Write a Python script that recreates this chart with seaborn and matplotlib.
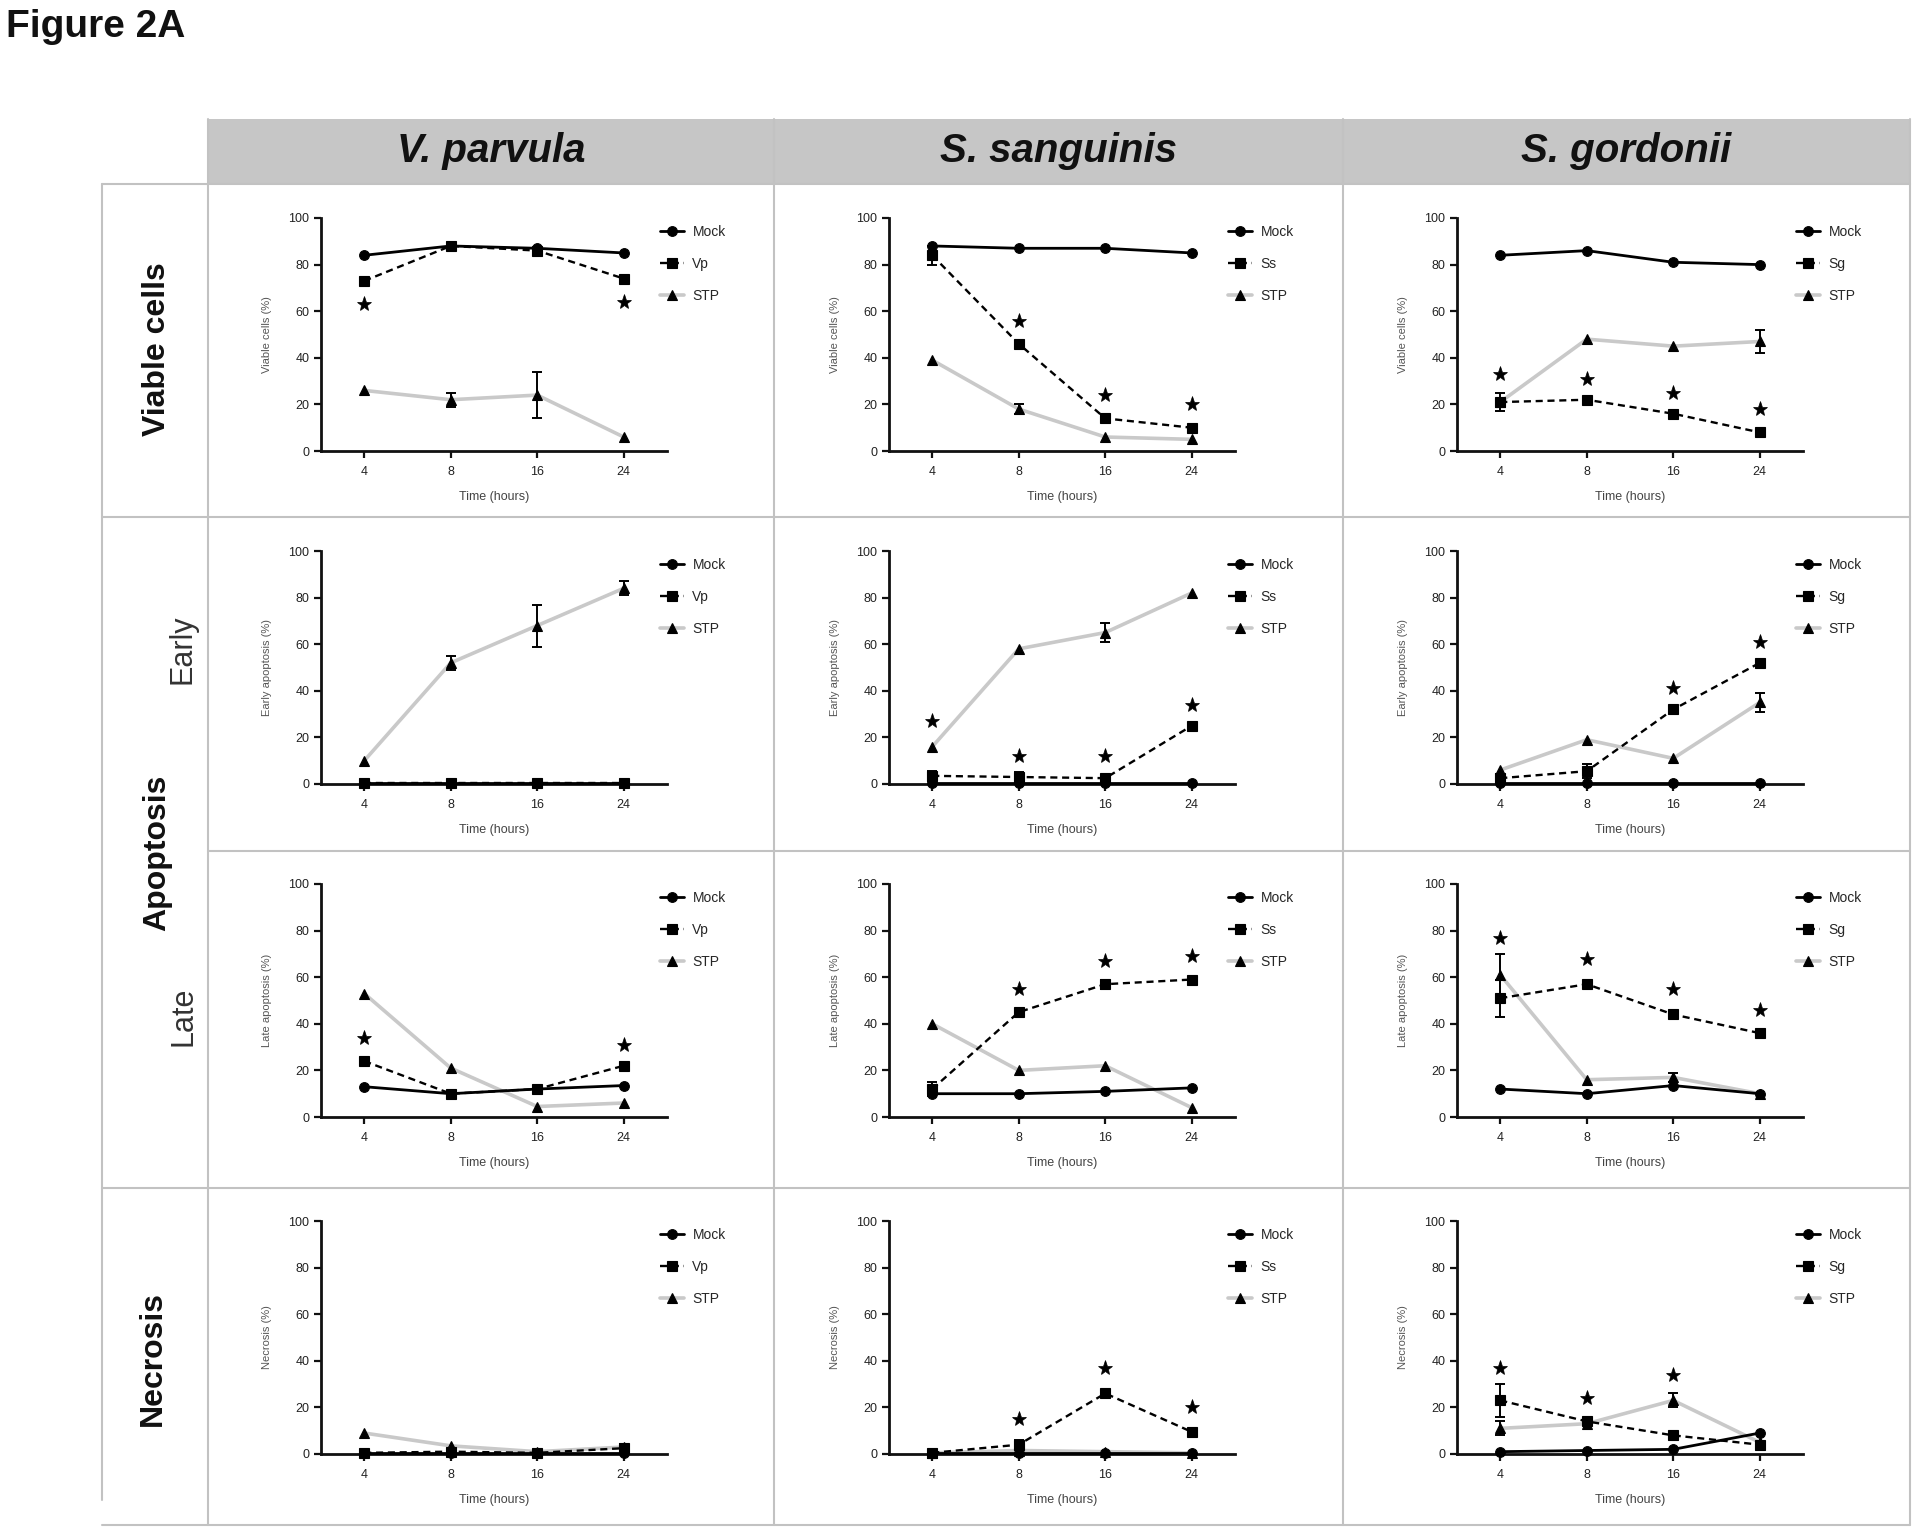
import numpy as np
import pandas as pd
import matplotlib
matplotlib.use("Agg")
import matplotlib.pyplot as plt
import seaborn as sns
from matplotlib.lines import Line2D
from matplotlib.patches import Rectangle

nan = np.nan

# ---------------- data ----------------
TIMES = ["4", "8", "16", "24"]
ORGANISMS = ["V. parvula", "S. sanguinis", "S. gordonii"]
INFECTION_LABELS = ["Vp", "Ss", "Sg"]
ROW_Y_LABELS = ["Viable cells (%)", "Early apoptosis (%)", "Late apoptosis (%)", "Necrosis (%)"]
Y_TICKS = [0, 20, 40, 60, 80, 100]
X_LABEL = "Time (hours)"

VIABLE_MOCK = [[84, 88, 87, 85], [88, 87, 87, 85], [84, 86, 81, 80]]
VIABLE_INF = [[73, 88, 86, 74], [84, 46, 14, 10], [21, 22, 16, 8]]
VIABLE_STP = [[26, 22, 24, 6], [39, 18, 6, 5], [21, 48, 45, 47]]
VIABLE_INF_ERR = [[0, 0, 0, 0], [4, 0, 0, 0], [4, 0, 0, 0]]
VIABLE_STP_ERR = [[0, 3, 10, 0], [0, 2, 0, 0], [0, 0, 0, 5]]
VIABLE_STARS = [[63, nan, nan, 64], [nan, 56, 24, 20], [33, 31, 25, 18]]

EARLY_MOCK = [[0.5, 0.5, 0.5, 0.5], [0.5, 0.5, 0.5, 0.5], [0.5, 0.5, 0.5, 0.5]]
EARLY_INF = [[0.5, 0.5, 0.5, 0.5], [3.5, 3, 2.5, 25], [2.5, 5.5, 32, 52]]
EARLY_STP = [[10, 52, 68, 84], [16, 58, 65, 82], [6, 19, 11, 35]]
EARLY_INF_ERR = [[0, 0, 0, 0], [2, 2, 0, 0], [2, 3, 0, 0]]
EARLY_STP_ERR = [[0, 3, 9, 3], [0, 0, 4, 0], [0, 0, 0, 4]]
EARLY_STARS = [[nan, nan, nan, nan], [27, 12, 12, 34], [nan, nan, 41, 61]]

LATE_MOCK = [[13, 10, 12, 13.5], [10, 10, 11, 12.5], [12, 10, 13.5, 10]]
LATE_INF = [[24, 10, 12, 22], [12, 45, 57, 59], [51, 57, 44, 36]]
LATE_STP = [[53, 21, 4.5, 6], [40, 20, 22, 4], [61, 16, 17, 10]]
LATE_INF_ERR = [[0, 0, 0, 0], [3, 0, 2, 0], [8, 0, 0, 0]]
LATE_STP_ERR = [[0, 0, 0, 0], [0, 0, 0, 0], [9, 0, 2, 0]]
LATE_STARS = [[34, nan, nan, 31], [nan, 55, 67, 69], [77, 68, 55, 46]]

NECROSIS_MOCK = [[0.5, 0.5, 0.5, 0.5], [0.5, 0.5, 0.5, 0.5], [1, 1.5, 2, 9]]
NECROSIS_INF = [[0.5, 1, 0.5, 2.5], [0.5, 4, 26, 9.5], [23, 14, 8, 4]]
NECROSIS_STP = [[9, 3.5, 1, 3], [0.5, 1.5, 1, 0.5], [11, 13, 23, 5]]
NECROSIS_INF_ERR = [[0, 0, 0, 2], [0, 2, 0, 0], [7, 0, 0, 0]]
NECROSIS_STP_ERR = [[0, 0, 0, 0], [0, 0, 0, 0], [3, 0, 3, 0]]
NECROSIS_STARS = [[nan, nan, nan, nan], [nan, 15, 37, 20], [37, 24, 34, nan]]

MEASURES = [
    (VIABLE_MOCK, VIABLE_INF, VIABLE_STP, VIABLE_INF_ERR, VIABLE_STP_ERR, VIABLE_STARS),
    (EARLY_MOCK, EARLY_INF, EARLY_STP, EARLY_INF_ERR, EARLY_STP_ERR, EARLY_STARS),
    (LATE_MOCK, LATE_INF, LATE_STP, LATE_INF_ERR, LATE_STP_ERR, LATE_STARS),
    (NECROSIS_MOCK, NECROSIS_INF, NECROSIS_STP, NECROSIS_INF_ERR, NECROSIS_STP_ERR, NECROSIS_STARS),
]

# ---------------- style ----------------
sns.set_theme(style="ticks")
plt.rcParams["font.family"] = ["Liberation Sans", "DejaVu Sans"]

W, H = 1920, 1535
fig = plt.figure(figsize=(W / 100, H / 100), dpi=100)
fig.patch.set_facecolor("white")


def fx(p):
    return p / W


def fy(p):
    return 1 - p / H


GRID = "#c2c2c2"


def hline(y, x0, x1, color=GRID, lw=1.5):
    fig.add_artist(Line2D([fx(x0), fx(x1)], [fy(y), fy(y)], transform=fig.transFigure,
                          color=color, lw=lw, zorder=1))


def vline(x, y0, y1, color=GRID, lw=1.5):
    fig.add_artist(Line2D([fx(x), fx(x)], [fy(y0), fy(y1)], transform=fig.transFigure,
                          color=color, lw=lw, zorder=1))


# header band
fig.add_artist(Rectangle((fx(208), fy(184)), fx(1910) - fx(208), (184 - 119) / H,
                         transform=fig.transFigure, facecolor="#c6c6c6",
                         edgecolor="none", zorder=0))

COL_X = [208, 774, 1343, 1910]
for x in COL_X:
    vline(x, 119, 1525)
vline(102, 184, 1500)
hline(184, 102, 1910)
hline(517, 102, 1910)
hline(851, 208, 1910)
hline(1188, 102, 1910)
hline(1525, 102, 1910)

fig.text(fx(6), fy(9), "Figure 2A", fontsize=28, fontweight="bold", ha="left", va="top",
         color="#111111")

for c, name in enumerate(ORGANISMS):
    fig.text(fx((COL_X[c] + COL_X[c + 1]) / 2), fy(151), name, fontsize=29,
             fontweight="bold", fontstyle="italic", ha="center", va="center", color="#111111")

fig.text(fx(157), fy(349), "Viable cells", rotation=90, fontsize=23, fontweight="bold",
         ha="center", va="center", color="#111111")
fig.text(fx(157), fy(853), "Apoptosis", rotation=90, fontsize=23, fontweight="bold",
         ha="center", va="center", color="#111111")
fig.text(fx(183), fy(649), "Early", rotation=90, fontsize=22, ha="center", va="center",
         color="#333333")
fig.text(fx(183), fy(1016), "Late", rotation=90, fontsize=22, ha="center", va="center",
         color="#333333")
fig.text(fx(153), fy(1359), "Necrosis", rotation=90, fontsize=23, fontweight="bold",
         ha="center", va="center", color="#111111")

AX_LEFT = [321, 889, 1457]
AX_TOP = [218, 551, 884, 1221]
AX_W, AX_H = 346, 233
positions = np.arange(len(TIMES))

for r, (mock, inf, stp, inf_err, stp_err, stars) in enumerate(MEASURES):
    for c in range(3):
        ax = fig.add_axes([fx(AX_LEFT[c]), fy(AX_TOP[r] + AX_H), AX_W / W, AX_H / H])

        df_mock = pd.DataFrame({"time": TIMES, "value": mock[c]})
        df_inf = pd.DataFrame({"time": TIMES, "value": inf[c]})
        df_stp = pd.DataFrame({"time": TIMES, "value": stp[c]})

        sns.pointplot(data=df_stp, x="time", y="value", order=TIMES, errorbar=None, ax=ax,
                      color="#c9c9c9", markers="^", linestyles="-", linewidth=2.6,
                      markersize=7.5, markerfacecolor="black", markeredgecolor="black",
                      markeredgewidth=0.8, clip_on=False, zorder=3)
        h_stp = ax.lines[-1]
        sns.pointplot(data=df_inf, x="time", y="value", order=TIMES, errorbar=None, ax=ax,
                      color="black", markers="s", linestyles=(0, (3, 2)), linewidth=1.7,
                      markersize=7.5, markeredgewidth=0.8, clip_on=False, zorder=4)
        h_inf = ax.lines[-1]
        sns.pointplot(data=df_mock, x="time", y="value", order=TIMES, errorbar=None, ax=ax,
                      color="black", markers="o", linestyles="-", linewidth=2.0,
                      markersize=7, markeredgewidth=0.8, clip_on=False, zorder=5)
        h_mock = ax.lines[-1]

        for vals, errs in ((stp[c], stp_err[c]), (inf[c], inf_err[c])):
            vals = np.asarray(vals, float)
            errs = np.asarray(errs, float)
            m = errs > 0
            if m.any():
                ax.errorbar(positions[m], vals[m], yerr=errs[m], fmt="none", ecolor="black",
                            elinewidth=1.4, capsize=3.5, capthick=1.4, zorder=6, clip_on=False)

        df_star = pd.DataFrame({"time": TIMES, "value": stars[c]}).dropna()
        if len(df_star):
            sns.pointplot(data=df_star, x="time", y="value", order=TIMES, errorbar=None,
                          ax=ax, color="black", markers="*", linestyles="none",
                          markersize=11, markeredgewidth=0.5, clip_on=False, zorder=7)

        ax.set_xlim(-0.5, len(TIMES) - 0.5)
        ax.set_ylim(0, 100)
        ax.set_yticks(Y_TICKS)
        ax.set_xticks(positions)
        ax.set_xticklabels(TIMES)
        ax.set_facecolor("none")
        sns.despine(ax=ax)
        for s in ("left", "bottom"):
            ax.spines[s].set_linewidth(2.0)
            ax.spines[s].set_color("#111111")
        ax.tick_params(axis="both", length=5, width=1.6, color="#111111", labelsize=9,
                       labelcolor="#222222")
        ax.tick_params(axis="x", pad=6)
        ax.set_ylabel(ROW_Y_LABELS[r], fontsize=8, color="#555555", labelpad=12)
        ax.set_xlabel(X_LABEL, fontsize=9, color="#444444", labelpad=9)

        ax.legend([h_mock, h_inf, h_stp], ["Mock", INFECTION_LABELS[c], "STP"],
                  loc="upper left", bbox_to_anchor=(0.965, 0.995), frameon=False,
                  fontsize=10, handlelength=1.7, labelspacing=1.3, handletextpad=0.6,
                  borderaxespad=0.0, numpoints=1)

fig.savefig("out.png", dpi=100, facecolor="white")
